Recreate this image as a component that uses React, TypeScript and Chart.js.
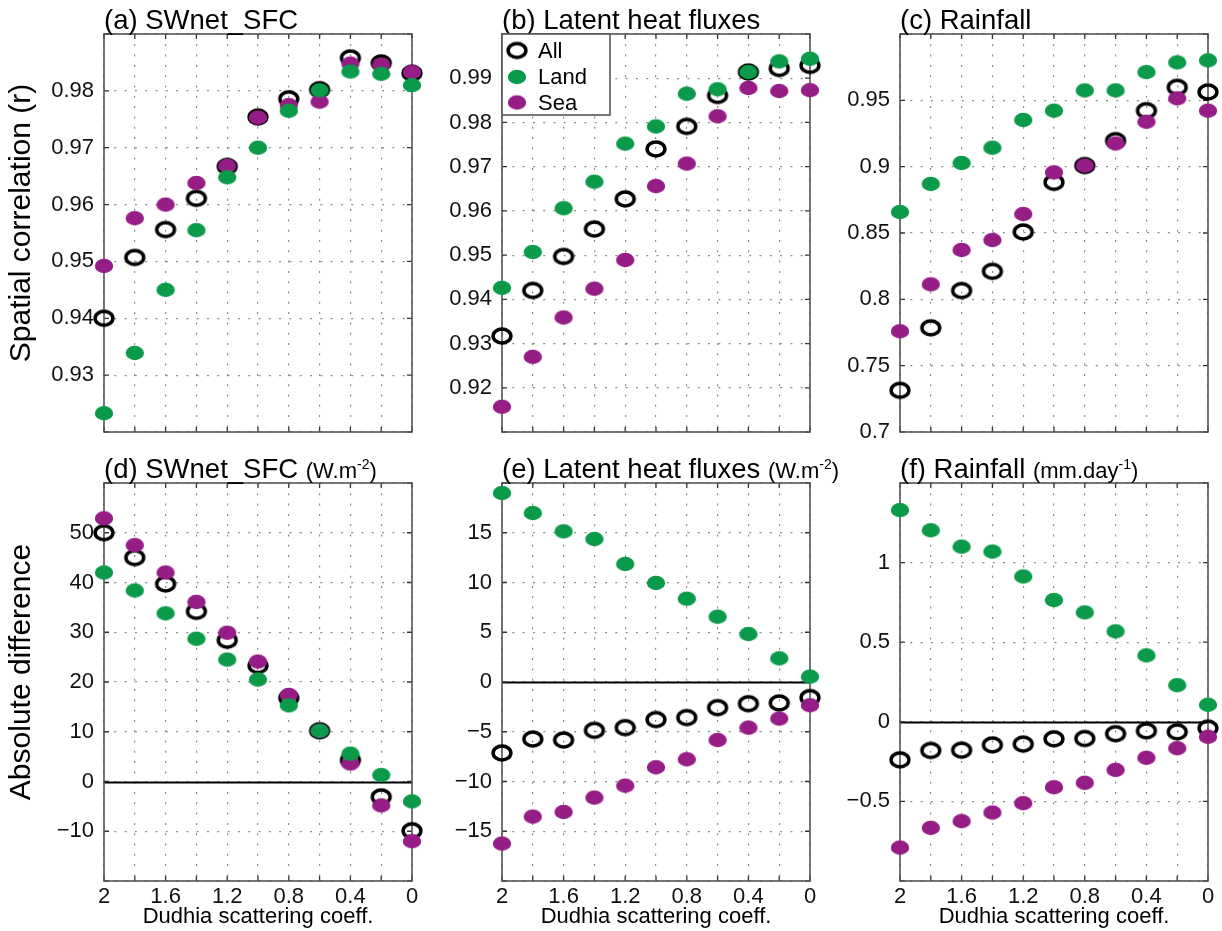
import React, { useEffect, useRef } from 'react';
import { Chart, registerables } from 'chart.js';

Chart.register(...registerables);

// ---------------- data ----------------
const X_VALUES = [2, 1.8, 1.6, 1.4, 1.2, 1.0, 0.8, 0.6, 0.4, 0.2, 0];
const X_TICK_VALUES = [2, 1.6, 1.2, 0.8, 0.4, 0];
const X_TICK_LABELS = ['2', '1.6', '1.2', '0.8', '0.4', '0'];
const SERIES_NAMES = ['All', 'Land', 'Sea'];

// (a) SWnet_SFC spatial correlation
const A_ALL = [0.9400, 0.9507, 0.9556, 0.9611, 0.9667, 0.9754, 0.9786, 0.9802, 0.9858, 0.9849, 0.9831];
const A_LAND = [0.9233, 0.9339, 0.9450, 0.9555, 0.9648, 0.9700, 0.9765, 0.9801, 0.9834, 0.9830, 0.9810];
const A_SEA = [0.9492, 0.9576, 0.9600, 0.9638, 0.9668, 0.9753, 0.9775, 0.9781, 0.9848, 0.9846, 0.9833];
const A_Y_TICK_VALUES = [0.93, 0.94, 0.95, 0.96, 0.97, 0.98];
const A_Y_TICK_LABELS = ['0.93', '0.94', '0.95', '0.96', '0.97', '0.98'];

// (b) Latent heat fluxes spatial correlation
const B_ALL = [0.9317, 0.9420, 0.9497, 0.9559, 0.9627, 0.9740, 0.9791, 0.9861, 0.9914, 0.9922, 0.9929];
const B_LAND = [0.9426, 0.9507, 0.9606, 0.9666, 0.9752, 0.9791, 0.9865, 0.9875, 0.9914, 0.9938, 0.9944];
const B_SEA = [0.9157, 0.9270, 0.9359, 0.9424, 0.9489, 0.9656, 0.9707, 0.9814, 0.9878, 0.9871, 0.9873];
const B_Y_TICK_VALUES = [0.92, 0.93, 0.94, 0.95, 0.96, 0.97, 0.98, 0.99];
const B_Y_TICK_LABELS = ['0.92', '0.93', '0.94', '0.95', '0.96', '0.97', '0.98', '0.99'];

// (c) Rainfall spatial correlation
const C_ALL = [0.7314, 0.7785, 0.8066, 0.8211, 0.8508, 0.8882, 0.9008, 0.9196, 0.9422, 0.9598, 0.9563];
const C_LAND = [0.8658, 0.8870, 0.9028, 0.9143, 0.9352, 0.9422, 0.9575, 0.9575, 0.9713, 0.9786, 0.9801];
const C_SEA = [0.7759, 0.8113, 0.8372, 0.8447, 0.8643, 0.8957, 0.9008, 0.9175, 0.9339, 0.9515, 0.9422];
const C_Y_TICK_VALUES = [0.7, 0.75, 0.8, 0.85, 0.9, 0.95];
const C_Y_TICK_LABELS = ['0.7', '0.75', '0.8', '0.85', '0.9', '0.95'];

// (d) SWnet_SFC absolute difference
const D_ALL = [50.0, 45.0, 39.7, 34.2, 28.4, 23.3, 16.8, 10.2, 4.3, -3.1, -9.9];
const D_LAND = [42.0, 38.4, 33.8, 28.7, 24.5, 20.5, 15.3, 10.2, 5.6, 1.3, -4.0];
const D_SEA = [52.9, 47.5, 42.0, 36.1, 29.9, 24.1, 17.4, 10.2, 3.6, -4.8, -12.0];
const D_Y_TICK_VALUES = [-10, 0, 10, 20, 30, 40, 50];
const D_Y_TICK_LABELS = ['\u221210', '0', '10', '20', '30', '40', '50'];

// (e) Latent heat fluxes absolute difference
const E_ALL = [-7.13, -5.73, -5.83, -4.86, -4.59, -3.78, -3.58, -2.58, -2.18, -2.11, -1.57];
const E_LAND = [18.99, 16.98, 15.14, 14.37, 11.86, 9.95, 8.37, 6.56, 4.82, 2.38, 0.54];
const E_SEA = [-16.24, -13.53, -13.06, -11.62, -10.42, -8.57, -7.77, -5.83, -4.59, -3.68, -2.34];
const E_Y_TICK_VALUES = [-15, -10, -5, 0, 5, 10, 15];
const E_Y_TICK_LABELS = ['\u221215', '\u221210', '\u22125', '0', '5', '10', '15'];

// (f) Rainfall absolute difference
const F_ALL = [-0.239, -0.180, -0.178, -0.145, -0.140, -0.107, -0.105, -0.075, -0.057, -0.063, -0.040];
const F_LAND = [1.330, 1.203, 1.100, 1.069, 0.913, 0.765, 0.687, 0.568, 0.417, 0.230, 0.107];
const F_SEA = [-0.790, -0.666, -0.624, -0.570, -0.511, -0.411, -0.383, -0.302, -0.226, -0.166, -0.094];
const F_Y_TICK_VALUES = [-0.5, 0, 0.5, 1];
const F_Y_TICK_LABELS = ['\u22120.5', '0', '0.5', '1'];

// ---------------- styling / layout ----------------
const FONT = '"Liberation Sans", Arial, Helvetica, sans-serif';
const GREEN = '#0b9a4a';
const PURPLE = '#951d85';
const BOX = '#555555';

const COL_LEFT = [0, 398, 796];
const COL_W = [450, 450, 426];
const ROW_TOP = [0, 449];
const ROW_H = [470, 482];
const PLOT_LEFT = 104;
const PLOT_TOP = 34;
const PLOT_W = 308;
const PLOT_H = 398;

type Panel = {
  title: string;
  unit?: { base: string; sup: string };
  all: number[];
  land: number[];
  sea: number[];
  yMin: number;
  yMax: number;
  yStep: number;
  yTickValues: number[];
  yTickLabels: string[];
  yTitle?: string;
  legend?: boolean;
  zeroLine?: boolean;
  row: number;
  col: number;
};

const PANELS: Panel[] = [
  { title: '(a) SWnet_SFC', all: A_ALL, land: A_LAND, sea: A_SEA, yMin: 0.92, yMax: 0.99, yStep: 0.01,
    yTickValues: A_Y_TICK_VALUES, yTickLabels: A_Y_TICK_LABELS, yTitle: 'Spatial correlation (r)', row: 0, col: 0 },
  { title: '(b) Latent heat fluxes', all: B_ALL, land: B_LAND, sea: B_SEA, yMin: 0.91, yMax: 1.0, yStep: 0.01,
    yTickValues: B_Y_TICK_VALUES, yTickLabels: B_Y_TICK_LABELS, legend: true, row: 0, col: 1 },
  { title: '(c) Rainfall', all: C_ALL, land: C_LAND, sea: C_SEA, yMin: 0.7, yMax: 1.0, yStep: 0.05,
    yTickValues: C_Y_TICK_VALUES, yTickLabels: C_Y_TICK_LABELS, row: 0, col: 2 },
  { title: '(d) SWnet_SFC', unit: { base: '(W.m', sup: '-2' }, all: D_ALL, land: D_LAND, sea: D_SEA,
    yMin: -20, yMax: 60, yStep: 10, yTickValues: D_Y_TICK_VALUES, yTickLabels: D_Y_TICK_LABELS,
    yTitle: 'Absolute difference', zeroLine: true, row: 1, col: 0 },
  { title: '(e) Latent heat fluxes', unit: { base: '(W.m', sup: '-2' }, all: E_ALL, land: E_LAND, sea: E_SEA,
    yMin: -20, yMax: 20, yStep: 5, yTickValues: E_Y_TICK_VALUES, yTickLabels: E_Y_TICK_LABELS,
    zeroLine: true, row: 1, col: 1 },
  { title: '(f) Rainfall', unit: { base: '(mm.day', sup: '-1' }, all: F_ALL, land: F_LAND, sea: F_SEA,
    yMin: -1, yMax: 1.5, yStep: 0.5, yTickValues: F_Y_TICK_VALUES, yTickLabels: F_Y_TICK_LABELS,
    zeroLine: true, row: 1, col: 2 },
];

function makeMarker(kind: 'ring' | 'fill', color: string): HTMLCanvasElement {
  const c = document.createElement('canvas');
  c.width = 24;
  c.height = 20;
  const g = c.getContext('2d')!;
  g.beginPath();
  if (kind === 'ring') {
    g.ellipse(12, 10, 8.9, 7.0, 0, 0, Math.PI * 2);
    g.lineWidth = 3.5;
    g.strokeStyle = color;
    g.stroke();
  } else {
    g.ellipse(12, 10, 9.2, 7.2, 0, 0, Math.PI * 2);
    g.fillStyle = color;
    g.fill();
  }
  return c;
}

const decorPlugin = {
  id: 'decor',
  beforeDatasetsDraw(chart: any, _args: any, opts: any) {
    const { ctx, chartArea } = chart;
    const { left, right, top, bottom } = chartArea;
    const xs = chart.scales.x;
    const ys = chart.scales.y;
    ctx.save();
    if (opts.zeroLine) {
      const y0 = Math.round(ys.getPixelForValue(0)) + 0.5;
      ctx.strokeStyle = '#000';
      ctx.lineWidth = 2;
      ctx.beginPath();
      ctx.moveTo(left, y0);
      ctx.lineTo(right, y0);
      ctx.stroke();
    }
    ctx.strokeStyle = '#333';
    ctx.lineWidth = 1.3;
    ctx.beginPath();
    xs.ticks.forEach((t: any) => {
      const px = xs.getPixelForValue(t.value);
      ctx.moveTo(px, bottom);
      ctx.lineTo(px, bottom - 5);
      ctx.moveTo(px, top);
      ctx.lineTo(px, top + 5);
    });
    ys.ticks.forEach((t: any) => {
      const py = ys.getPixelForValue(t.value);
      ctx.moveTo(left, py);
      ctx.lineTo(left + 5, py);
      ctx.moveTo(right, py);
      ctx.lineTo(right - 5, py);
    });
    ctx.stroke();
    ctx.strokeStyle = BOX;
    ctx.lineWidth = 1.6;
    ctx.strokeRect(left, top, right - left, bottom - top);
    ctx.restore();
  },
  afterDraw(chart: any, _args: any, opts: any) {
    const { ctx, chartArea } = chart;
    const { left, right, top, bottom } = chartArea;
    ctx.save();
    ctx.fillStyle = '#000';
    ctx.textAlign = 'left';
    ctx.textBaseline = 'alphabetic';
    ctx.font = `27.5px ${FONT}`;
    const ty = top - 5;
    ctx.fillText(opts.title, left, ty);
    if (opts.unit) {
      let x = left + ctx.measureText(opts.title + ' ').width;
      ctx.font = `22px ${FONT}`;
      ctx.fillText(opts.unit.base, x, ty);
      x += ctx.measureText(opts.unit.base).width;
      ctx.font = `14px ${FONT}`;
      ctx.fillText(opts.unit.sup, x, ty - 9);
      x += ctx.measureText(opts.unit.sup).width;
      ctx.font = `22px ${FONT}`;
      ctx.fillText(')', x, ty);
    }
    if (opts.yTitle) {
      ctx.save();
      ctx.translate(22, (top + bottom) / 2 - 10);
      ctx.rotate(-Math.PI / 2);
      ctx.font = `30px ${FONT}`;
      ctx.textAlign = 'center';
      ctx.textBaseline = 'middle';
      ctx.fillText(opts.yTitle, 0, 0);
      ctx.restore();
    }
    if (opts.xTitle) {
      ctx.font = `22px ${FONT}`;
      ctx.textAlign = 'center';
      ctx.textBaseline = 'middle';
      ctx.fillText(opts.xTitle, (left + right) / 2, bottom + 36);
    }
    if (opts.legend) {
      const bw = 108;
      const bh = 81;
      ctx.fillStyle = '#fff';
      ctx.fillRect(left, top, bw, bh);
      ctx.strokeStyle = BOX;
      ctx.lineWidth = 1.6;
      ctx.strokeRect(left, top, bw, bh);
      const rows = [16.5, 43, 68.5];
      opts.legendItems.forEach((it: any, i: number) => {
        const img = it.img as HTMLCanvasElement;
        ctx.drawImage(img, left + 15 - img.width / 2, top + rows[i] - img.height / 2);
        ctx.fillStyle = '#000';
        ctx.font = `22px ${FONT}`;
        ctx.textAlign = 'left';
        ctx.textBaseline = 'middle';
        ctx.fillText(it.label, left + 36, top + rows[i] + 1);
      });
    }
    ctx.restore();
  },
};

function PanelChart({ p }: { p: Panel }) {
  const ref = useRef<HTMLCanvasElement | null>(null);
  const W = COL_W[p.col];
  const H = ROW_H[p.row];
  useEffect(() => {
    const canvas = ref.current;
    if (!canvas) return;
    const ringImg = makeMarker('ring', '#000');
    const landImg = makeMarker('fill', GREEN);
    const seaImg = makeMarker('fill', PURPLE);
    const toPts = (arr: number[]) => arr.map((v, i) => ({ x: X_VALUES[i], y: v }));
    const bottomRow = p.row === 1;
    const xAxisH = bottomRow ? 50 : 20;
    const findLabel = (vals: number[], labels: string[], v: number) => {
      const i = vals.findIndex((q) => Math.abs(q - v) < 1e-6);
      return i >= 0 ? labels[i] : '';
    };
    const common = { pointRadius: 8, pointHoverRadius: 8, clip: false as any, showLine: false };
    const chart = new Chart(canvas, {
      type: 'scatter',
      data: {
        datasets: [
          { label: SERIES_NAMES[1], data: toPts(p.land), pointStyle: landImg as any, ...common },
          { label: SERIES_NAMES[2], data: toPts(p.sea), pointStyle: seaImg as any, ...common },
          { label: SERIES_NAMES[0], data: toPts(p.all), pointStyle: ringImg as any, ...common },
        ],
      },
      options: {
        animation: false,
        responsive: false,
        devicePixelRatio: 1,
        events: [],
        layout: {
          padding: { left: 0, top: PLOT_TOP, right: W - PLOT_LEFT - PLOT_W, bottom: H - PLOT_TOP - PLOT_H - xAxisH },
        },
        plugins: {
          legend: { display: false },
          tooltip: { enabled: false },
          title: { display: false },
          decor: {
            title: p.title,
            unit: p.unit,
            yTitle: p.yTitle,
            xTitle: bottomRow ? 'Dudhia scattering coeff.' : null,
            zeroLine: !!p.zeroLine,
            legend: !!p.legend,
            legendItems: [
              { label: SERIES_NAMES[0], img: ringImg },
              { label: SERIES_NAMES[1], img: landImg },
              { label: SERIES_NAMES[2], img: seaImg },
            ],
          },
        } as any,
        scales: {
          x: {
            type: 'linear',
            reverse: true,
            min: 0,
            max: 2,
            afterFit: (s: any) => { s.height = xAxisH; },
            ticks: {
              stepSize: 0.2,
              display: bottomRow,
              autoSkip: false,
              maxRotation: 0,
              minRotation: 0,
              padding: 3,
              color: '#111',
              font: { size: 22, family: FONT },
              callback: (v: any) => findLabel(X_TICK_VALUES, X_TICK_LABELS, Number(v)),
            },
            grid: { color: '#8c8c8c', lineWidth: 1.2, drawTicks: false },
            border: { display: false, dash: [2, 8.3] },
          },
          y: {
            type: 'linear',
            min: p.yMin,
            max: p.yMax,
            afterFit: (s: any) => { s.width = PLOT_LEFT; },
            ticks: {
              stepSize: p.yStep,
              autoSkip: false,
              padding: 10,
              color: '#111',
              font: { size: 22, family: FONT },
              callback: (v: any) => findLabel(p.yTickValues, p.yTickLabels, Number(v)),
            },
            grid: { color: '#8c8c8c', lineWidth: 1.2, drawTicks: false },
            border: { display: false, dash: [2, 8.3] },
          },
        },
      } as any,
      plugins: [decorPlugin as any],
    });
    return () => chart.destroy();
  }, [p]);
  return (
    <canvas
      ref={ref}
      width={W}
      height={H}
      style={{
        position: 'absolute',
        left: COL_LEFT[p.col],
        top: ROW_TOP[p.row],
        width: W,
        height: H,
      }}
    />
  );
}

export default function App() {
  return (
    <div
      style={{
        position: 'absolute',
        left: 0,
        top: 0,
        width: 1222,
        height: 931,
        background: '#fff',
        overflow: 'hidden',
      }}
    >
      {PANELS.map((p, i) => (
        <PanelChart key={i} p={p} />
      ))}
    </div>
  );
}
